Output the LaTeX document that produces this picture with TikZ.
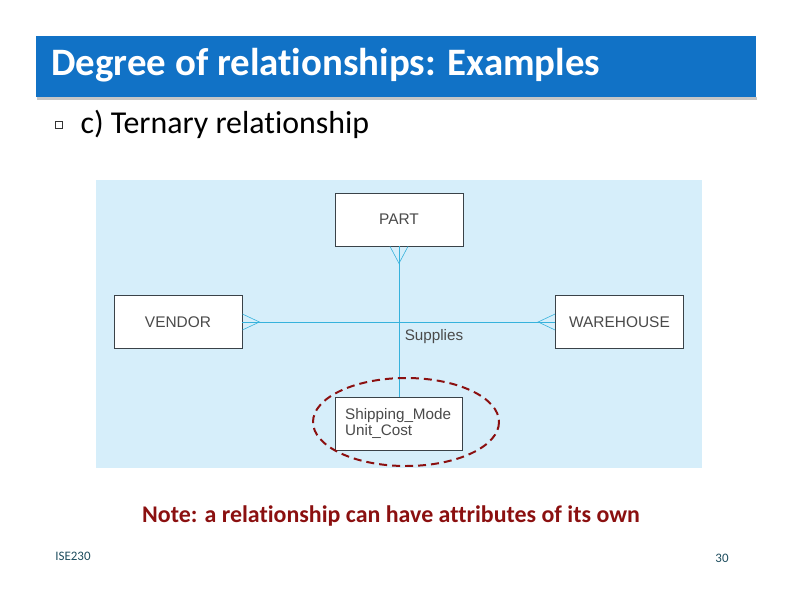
\documentclass[tikz,border=0pt]{standalone}
\usepackage{fontspec}
\setmainfont[Ligatures=NoCommon]{Carlito}
\newfontfamily\diagfont{Liberation Sans}
\usepackage{xcolor}
\usetikzlibrary{positioning,calc}
\definecolor{titleblue}{HTML}{1172C6}
\definecolor{panelblue}{HTML}{D6EEFA}
\definecolor{linecyan}{HTML}{36B2DC}
\definecolor{boxedge}{HTML}{3A4248}
\definecolor{boxtext}{HTML}{4A4A4A}
\definecolor{notered}{HTML}{8B1010}
\definecolor{footteal}{HTML}{1F4E5F}
\tikzset{
  entity/.style={draw=boxedge,fill=white,line width=0.8pt,
                 minimum width=128bp,minimum height=53bp,inner sep=0pt,
                 font=\diagfont\fontsize{15.5}{17}\selectfont,text=boxtext},
  attrbox/.style={draw=boxedge,fill=white,line width=0.8pt,
                  minimum width=127bp,minimum height=53bp,inner sep=0pt},
  relline/.style={draw=linecyan,line width=0.9pt},
  crowfoot/.style={draw=linecyan,line width=0.6pt},
  ringmark/.style={draw=notered,line width=2pt,dash pattern=on 8bp off 5bp}
}
\begin{document}
\begin{tikzpicture}[x=1bp,y=-1bp]
    \path[use as bounding box] (0,0) rectangle (792,612);
    % title bar
    \fill[gray!45] (37,97) rectangle (757,100);
    \fill[titleblue] (36,36) rectangle (756,97);
    \node[anchor=west,text=white,font=\bfseries\fontsize{39}{44}\selectfont] (title) at (48,65)
      {Degree of relationships: Examples};
    % bullet line
    \node[draw=black!80,line width=0.5pt,minimum size=7bp,inner sep=0pt] (bullet) at (59,125) {};
    \node[anchor=west,font=\fontsize{32}{36}\selectfont] (sub) at (77,124)
      {c) Ternary relationship};

    % diagram panel
    \fill[panelblue] (96,180) rectangle (702,468);
    \node[entity] (part) at (399,219.5) {PART};
    \node[entity] (vendor) at (178,322) {VENDOR};
    \node[entity] (warehouse) at (619.5,322) {WAREHOUSE};
    \node[attrbox] (attr) at (399,423.5) {};
    \node[anchor=north west,align=left,inner sep=0pt,text=boxtext,
          font=\diagfont\fontsize{15.3}{16.5}\selectfont] (attrtext) at (345,408)
      {Shipping\_Mode\\Unit\_Cost};
    \draw[relline] (vendor.east) -- (warehouse.west);
    \draw[relline] (part.south) -- (attr.north);
    \node[text=boxtext,font=\diagfont\fontsize{15.3}{17}\selectfont] (supplies) at (434,337) {Supplies};
    % crow's feet
    \coordinate (pfoot) at ($(part.south)+(0,17)$);
    \coordinate (vfoot) at ($(vendor.east)+(17,0)$);
    \coordinate (wfoot) at ($(warehouse.west)+(-17,0)$);
    \draw[crowfoot] ($(part.south)+(-9,0)$) -- (pfoot) -- ($(part.south)+(9,0)$);
    \draw[crowfoot] ($(vendor.east)+(0,-8)$) -- (vfoot) -- ($(vendor.east)+(0,8)$);
    \draw[crowfoot] ($(warehouse.west)+(0,-8)$) -- (wfoot) -- ($(warehouse.west)+(0,8)$);
    % dashed ring round the attributes
    \draw[ringmark] (406,422) ellipse [x radius=93,y radius=44];

    \node[text=notered,font=\bfseries\fontsize{24}{28}\selectfont] (note) at (391,516)
      {Note: a relationship can have attributes of its own};
    \node[text=footteal,font=\fontsize{13}{15}\selectfont] (course) at (73,556) {ISE230};
    \node[text=footteal,font=\fontsize{13}{15}\selectfont] (pageno) at (722,558) {30};
  \end{tikzpicture}
\end{document}
